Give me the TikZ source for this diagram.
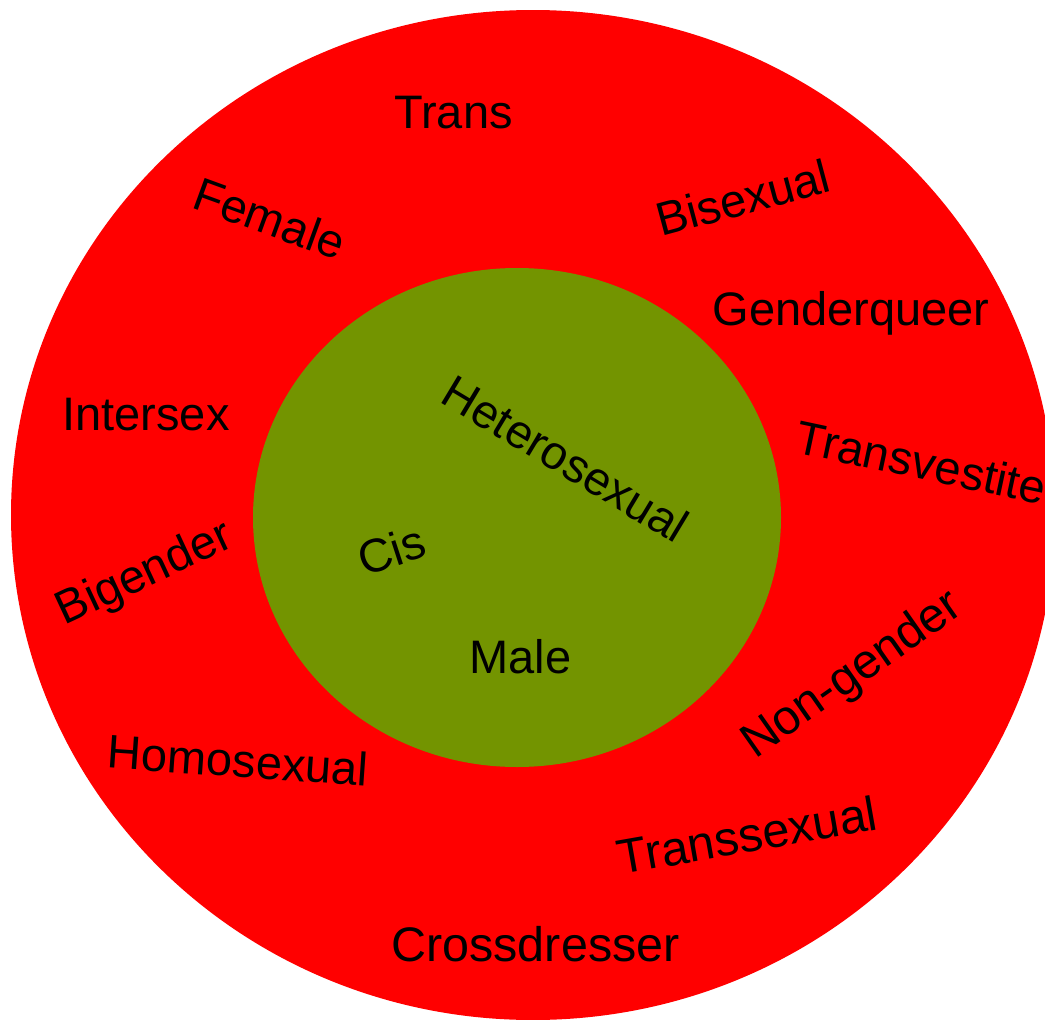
\documentclass[tikz,border=0pt]{standalone}
\usepackage{fontspec}
\setmainfont{Liberation Sans}
\definecolor{outerred}{RGB}{255,0,0}
\definecolor{innergreen}{RGB}{115,148,0}
\begin{document}
\begin{tikzpicture}[x=1pt,y=-1pt,
  lbl/.style={anchor=base, inner sep=0pt, text=black, font=\fontsize{47}{56}\selectfont},
  lblbig/.style={lbl, font=\fontsize{48.5}{58}\selectfont}]
\useasboundingbox (0,0) rectangle (1045,1020);
\clip (0,0) rectangle (1045,1020);
\fill[outerred] (533,515) ellipse [x radius=522, y radius=505];
\fill[innergreen] (517,517.5) ellipse [x radius=264, y radius=249.5];
\node[lbl] (trans) at (453.5,128) {Trans};
\node[lbl, rotate=-20] (female) at (264,234) {Female};
\node[lbl, rotate=15] (bisexual) at (747,214) {Bisexual};
\node[lbl] (genderqueer) at (851,325) {Genderqueer};
\node[lbl] (intersex) at (146,430) {Intersex};
\node[lbl, rotate=-12] (transvestite) at (918,478.6) {Transvestite};
\node[lbl, rotate=25] (bigender) at (150,586) {Bigender};
\node[lbl, rotate=18] (cis) at (397,566) {Cis};
\node[lbl, rotate=-31] (hetero) at (557,473) {Heterosexual};
\node[lbl] (male) at (520.5,673) {Male};
\node[lbl, rotate=-4] (homo) at (237,777) {Homosexual};
\node[lblbig, rotate=35] (nongender) at (860,686) {Non-gender};
\node[lblbig, rotate=10] (transsexual) at (750,852) {Transsexual};
\node[lblbig] (crossdresser) at (535.5,961) {Crossdresser};
\end{tikzpicture}
\end{document}
